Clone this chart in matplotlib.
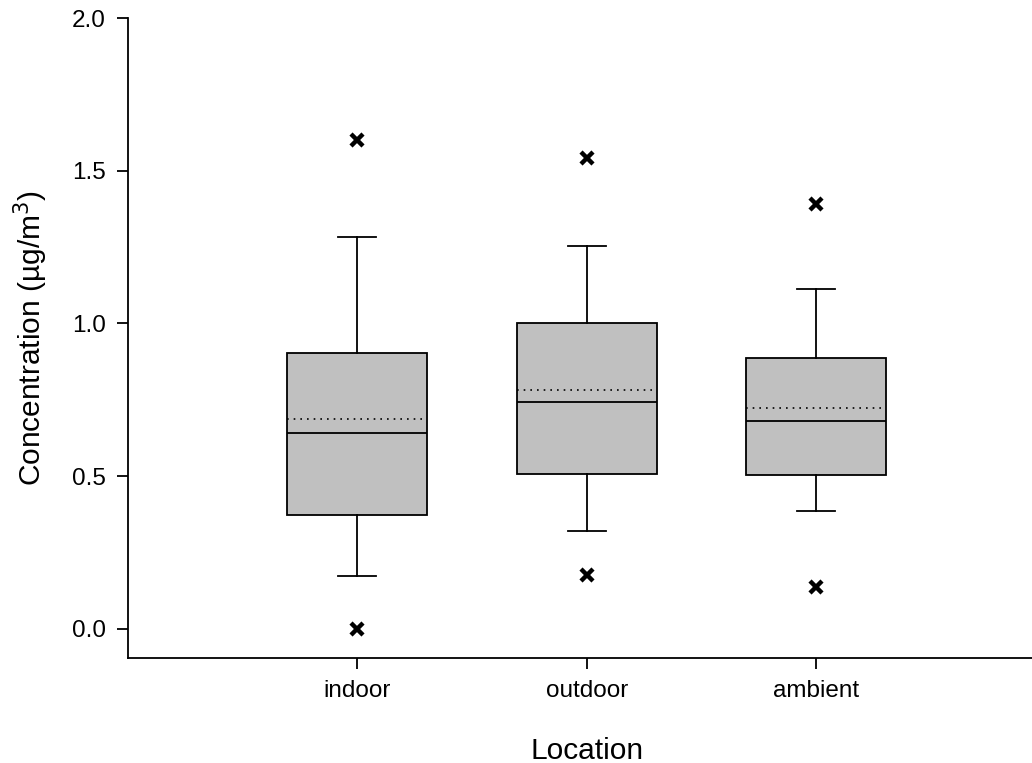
import matplotlib.pyplot as plt

plt.rcParams['font.family'] = ['Liberation Sans', 'DejaVu Sans']

# box statistics (ug/m3)
locations = ["indoor", "outdoor", "ambient"]
q1 = [0.373, 0.508, 0.503]
q3 = [0.903, 1.000, 0.886]
medians = [0.642, 0.743, 0.681]
means = [0.688, 0.783, 0.723]
whisker_low = [0.172, 0.322, 0.387]
whisker_high = [1.283, 1.255, 1.112]
outliers = [[1.600, 0.0], [1.543, 0.177], [1.390, 0.139]]

stats = []
for i in range(len(locations)):
    stats.append({
        "label": locations[i],
        "q1": q1[i], "q3": q3[i], "med": medians[i], "mean": means[i],
        "whislo": whisker_low[i], "whishi": whisker_high[i],
        "fliers": outliers[i],
    })

fig = plt.figure(figsize=(10.32, 7.63), dpi=100)
ax = fig.add_axes([0.124, 0.1376, 0.876, 0.8388])

ax.bxp(stats, positions=[1, 2, 3], widths=0.61, capwidths=0.165,
       patch_artist=True, showmeans=True, meanline=True,
       boxprops=dict(facecolor="#c0c0c0", edgecolor="black", linewidth=1.3),
       medianprops=dict(color="black", linewidth=1.3),
       meanprops=dict(color="black", linestyle=(0, (1, 3)), linewidth=1.2),
       whiskerprops=dict(color="black", linewidth=1.3),
       capprops=dict(color="black", linewidth=1.3),
       flierprops=dict(marker="x", markersize=9, markeredgewidth=3.2,
                       markeredgecolor="black"))

ax.set_xlim(0, 3.94)
ax.set_ylim(-0.095, 2.0)
ax.set_yticks([0.0, 0.5, 1.0, 1.5, 2.0])
ax.set_yticklabels(["0.0", "0.5", "1.0", "1.5", "2.0"])
ax.set_xticks([1, 2, 3])
ax.set_xticklabels(locations)

ax.spines["top"].set_visible(False)
ax.spines["right"].set_visible(False)
ax.spines["left"].set_linewidth(1.3)
ax.spines["bottom"].set_linewidth(1.3)
ax.tick_params(direction="out", length=8, width=1.3, labelsize=17.5, pad=8)

ax.set_xlabel("Location", fontsize=21.5, labelpad=23)
ax.xaxis.set_label_coords(0.508, -0.123)
ax.set_ylabel("Concentration (\u00b5g/m$^3$)", fontsize=21.5, labelpad=16)

fig.savefig("out.png", dpi=100)
